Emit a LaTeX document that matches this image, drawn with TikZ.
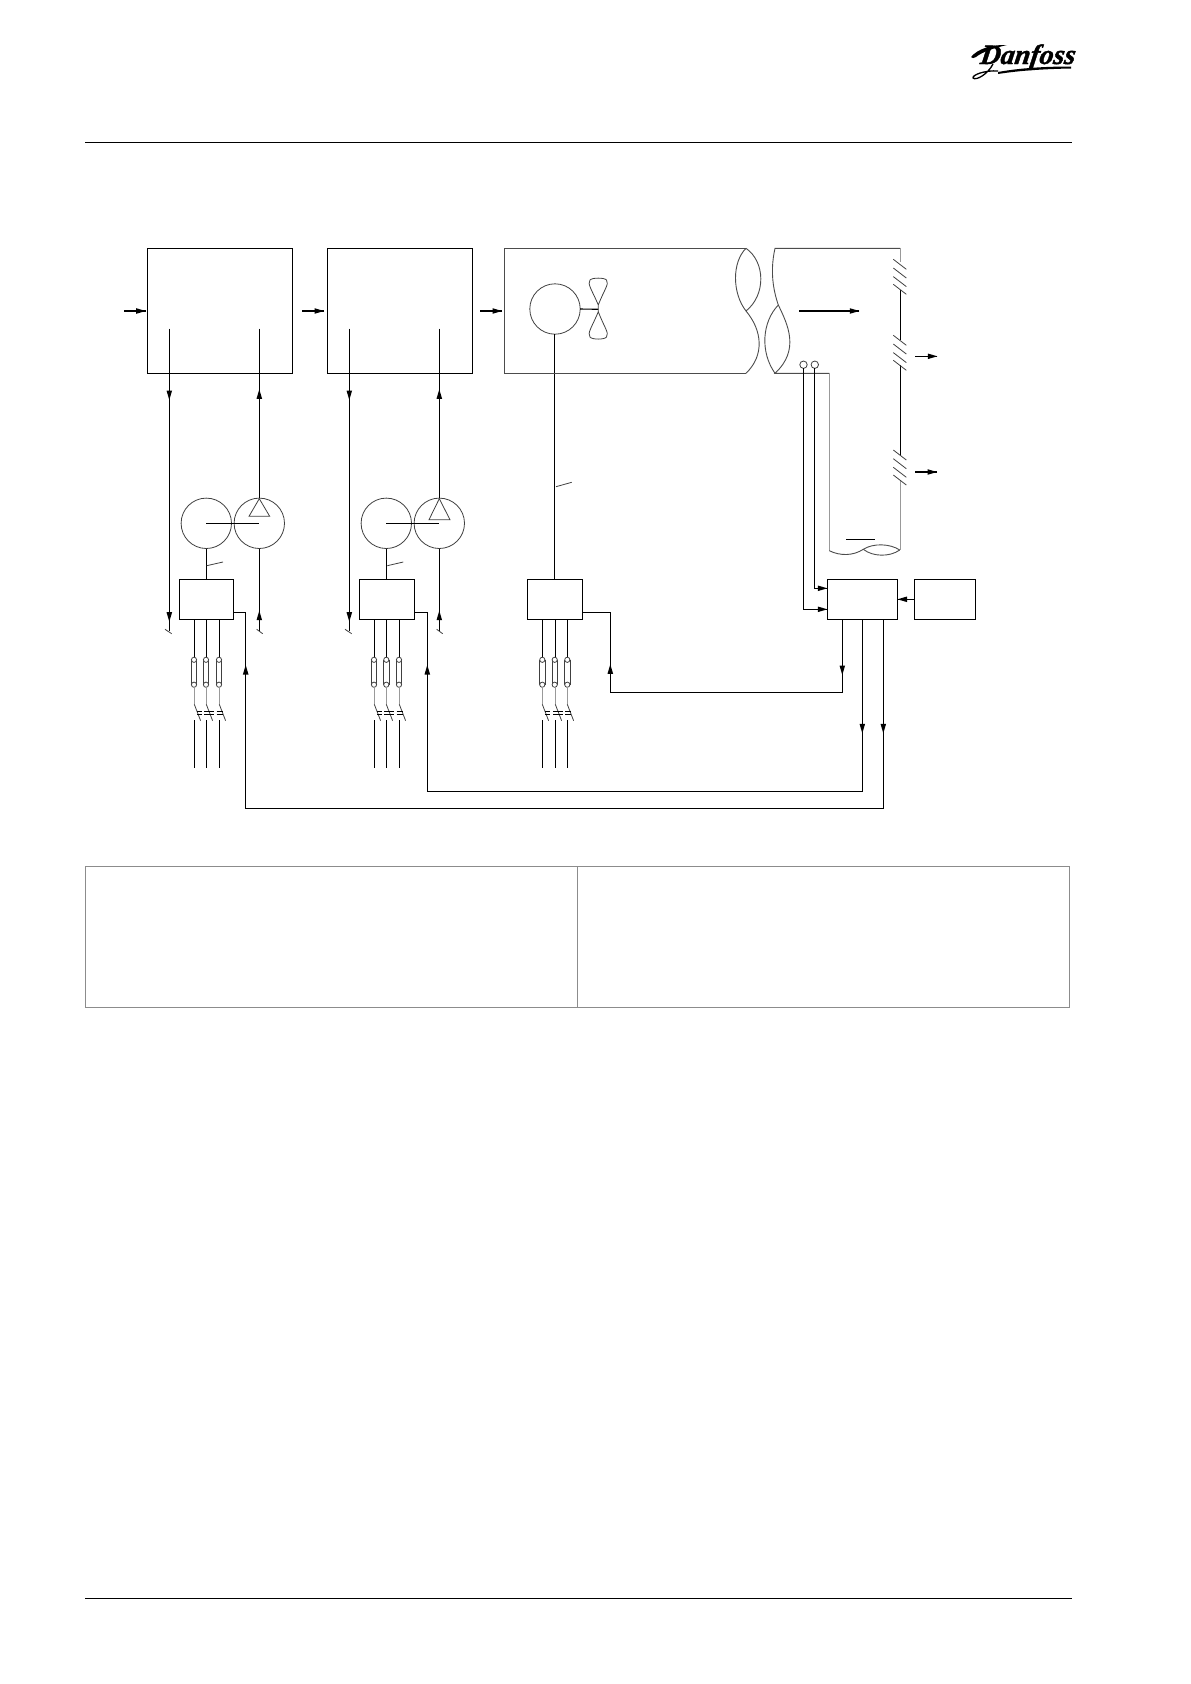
\documentclass[tikz,border=0pt]{standalone}
\usepackage{fontspec}
\setmainfont{Liberation Serif}
\newfontfamily\logofont{Liberation Serif}[BoldItalicFeatures={FakeBold=1.5}]
\usetikzlibrary{calc}
\tikzset{
  x=1pt,y=-1pt,
  wire/.style={draw=black,line width=1.1pt},
  thinl/.style={draw=black!75,line width=0.8pt},
  greyl/.style={draw=black!40,line width=1pt},
  boxn/.style={rectangle,draw=black,line width=1.1pt,inner sep=0,outer sep=0},
  ductl/.style={draw=black!70,line width=0.9pt},
  ringn/.style={circle,draw=black!75,line width=0.8pt,inner sep=0,outer sep=0},
  tablel/.style={draw=black!45,line width=1pt},
}
\newcommand\headat[3]{\fill[black,shift={(#1,#2)},rotate=#3] (0,0) -- (-9.5,2.8) -- (-9.5,-2.8) -- cycle;}
\newcommand\legset[2]{%
  \draw[wire] (#1,619.3) -- (#1,657.5);
  \draw[thinl] (#2-2.8,660) -- (#2-2.8,684.7) (#2+2.8,660) -- (#2+2.8,684.7);
  \draw[thinl,fill=white] (#2,659.8) circle (2.6);
  \draw[thinl,fill=white] (#2,684.7) circle (2.6);
  \draw[greyl] (#1,687.3) -- (#1,704.3);
  \draw[thinl] (#1,704.3) -- (#1+6.3,720.7);
  \draw[wire] (#1,720) -- (#1,767.7);
}
\newcommand\barset[6]{%
  \draw[line width=0.55pt] (#1,711) -- (#2,711) (#1,714) -- (#2,714)
    (#3,711) -- (#4,711) (#3,714) -- (#4,714)
    (#5,711) -- (#6,711) (#5,714) -- (#6,714);
}
\newcommand\damper[1]{%
  \draw[thinl] (893.3,#1) -- (906.3,#1+10) (893.3,#1+8.7) -- (906.3,#1+18.7)
    (893.3,#1+17.3) -- (906.3,#1+27.3) (893.3,#1+25) -- (906.3,#1+35);
}
\begin{document}
\begin{tikzpicture}
\useasboundingbox (0,0) rectangle (1191,1684);
% page rules
\coordinate (hl) at (85,142.5); \coordinate (hr) at (1072,142.5);
\coordinate (fl) at (85,1598.5); \coordinate (fr) at (1072,1598.5);
\draw[wire] (hl) -- (hr);
\draw[wire] (fl) -- (fr);
% logo
\node[inner sep=0,anchor=base,xslant=0.15,transform shape] (logo) at (1027,64)
  {\logofont\fontsize{28}{28}\selectfont\bfseries\itshape Danfoss};
\fill[black] (971,57) .. controls (978,48.5) and (992,44.5) .. (1007,45) .. controls (994,48) and (982,52) .. (976,57) .. controls (974,58.5) and (972,58.5) .. (971,57) -- cycle;
\fill[black] (998,72) .. controls (1020,68) and (1045,66.5) .. (1071,66.5) -- (1071,68.5) .. controls (1045,69) and (1020,70.5) .. (998,74) -- cycle;
\draw[line width=1.3pt] (993,64) .. controls (988,74) and (976,81) .. (973,78) .. controls (972,75) and (985,70) .. (998,71);
% table
\draw[tablel] (85.5,866.5) rectangle (1069.5,1007.5);
\coordinate (tt) at (577.5,866.5); \coordinate (tb) at (577.5,1007.5);
\draw[tablel] (tt) -- (tb);
% boxes
\node[boxn,minimum width=145,minimum height=125] (b1) at (219.8,310.8) {};
\node[boxn,minimum width=145,minimum height=125] (b2) at (399.8,310.8) {};
\node[boxn,minimum width=54,minimum height=40] (d1) at (206.3,599.3) {};
\node[boxn,minimum width=55,minimum height=40] (d2) at (386.8,599.3) {};
\node[boxn,minimum width=55,minimum height=40] (d3) at (554.8,599.3) {};
\node[boxn,minimum width=70,minimum height=40] (ctrl) at (862.3,599.3) {};
\node[boxn,minimum width=61.4,minimum height=40] (sp) at (945,599.3) {};
% motors and pumps
\node[ringn,minimum size=50.4] (m1) at (206.3,523.3) {};
\node[ringn,minimum size=50.4] (p1) at (259.3,523.3) {};
\node[ringn,minimum size=50.4] (m2) at (386.3,523.3) {};
\node[ringn,minimum size=50.4] (p2) at (439.3,523.3) {};
\node[ringn,minimum size=50.4] (m3) at (555,309) {};
\node[ringn,minimum size=7.4] (s1) at (803.5,364.7) {};
\node[ringn,minimum size=7.4] (s2) at (814.8,364.7) {};
\draw[wire] (m1.center) -- (p1.center);
\draw[wire] (m2.center) -- (p2.center);
\draw[thinl] (259.3,498.7) -- (249,516.3) -- (269.7,516.3) -- cycle;
\draw[thinl] (439.3,498.7) -- (429,519.7) -- (450,519.7) -- cycle;
% flow arrows between blocks
\coordinate (i1a) at (124,311); \coordinate (i1b) at (145.7,311);
\coordinate (i2a) at (302,311); \coordinate (i2b) at (324,311);
\coordinate (i3a) at (480,311); \coordinate (i3b) at (502,311);
\draw[wire] (i1a) -- (i1b); \headat{145.7}{311}{0}
\draw[wire] (i2a) -- (i2b); \headat{324}{311}{0}
\draw[wire] (i3a) -- (i3b); \headat{502}{311}{0}
% water lines column 1
\coordinate (w1t) at (169.3,328.7); \coordinate (w1b) at (169.3,631);
\draw[wire] (w1t) -- (w1b);
\headat{169.3}{400}{-90}\headat{169.3}{621.7}{-90}
\draw[thinl] (165,629.3) -- (171.7,633.7);
\coordinate (r1t) at (259.3,328.7); \coordinate (r1b) at (259.3,631);
\draw[wire] (r1t) -- (p1.north);
\draw[wire] (p1.south) -- (r1b);
\headat{259.3}{389.3}{90}\headat{259.3}{610.7}{90}
\draw[thinl] (256.7,629.3) -- (262.7,633.7);
% water lines column 2
\coordinate (w2t) at (349.3,328.7); \coordinate (w2b) at (349.3,631);
\draw[wire] (w2t) -- (w2b);
\headat{349.3}{400}{-90}\headat{349.3}{621.7}{-90}
\draw[thinl] (345,629.3) -- (351.7,633.7);
\coordinate (r2t) at (439.3,328.7); \coordinate (r2b) at (439.3,631);
\draw[wire] (r2t) -- (p2.north);
\draw[wire] (p2.south) -- (r2b);
\headat{439.3}{389.3}{90}\headat{439.3}{610.7}{90}
\draw[thinl] (436.7,629.3) -- (442.7,633.7);
% motor feeds
\draw[wire] (d1.north) -- (m1.south);
\draw[wire] (d2.north) -- (d2.north |- m2.south);
\draw[wire] (d3.north) -- (d3.north |- m3.south);
\draw[thinl] (206.7,565.7) -- (223,562);
\draw[thinl] (387.3,565.7) -- (403.3,562);
\draw[thinl] (556,486.7) -- (571.7,482.3);
% legs
\legset{194.3}{194}\legset{206.3}{206}\legset{219.3}{219}
\legset{374.3}{374}\legset{386.3}{386.3}\legset{399.3}{399}
\legset{542.3}{542.3}\legset{555.3}{554.7}\legset{567.3}{567.3}
\barset{197}{202.3}{204.3}{213.7}{216.7}{222.7}
\barset{377}{382.3}{384.3}{393.7}{396.7}{402.7}
\barset{545}{550}{553.3}{562.7}{565}{571}
% duct left part
\draw[ductl] (746,248.3) -- (504.3,248.3) -- (504.3,373.3) -- (746,373.3);
\draw[ductl] (746,248.3) .. controls (732,262) and (732,293) .. (746,311);
\draw[ductl] (746,248.3) .. controls (765.5,262) and (766,295) .. (746,311);
\draw[ductl] (746,311) .. controls (762,330) and (765,355) .. (746,373.3);
% duct right part
\draw[ductl] (900,248.3) -- (775,248.3) .. controls (769,275) and (775,295) .. (778.3,305) .. controls (788,325) and (800,350) .. (775,373.3) -- (829.3,373.3);
\draw[ductl] (778.3,305) .. controls (762,322) and (760,352) .. (775,373.3);
\draw[greyl] (829.3,373.3) -- (829.3,550.7);
\draw[greyl] (900,248.3) -- (900,262);
\draw[wire] (900.3,290) -- (900.3,340);
\draw[wire] (900.3,365) -- (900.3,455);
\draw[greyl] (900,480) -- (900,550);
\draw[ductl] (829.3,550.7) .. controls (840,556) and (853,556) .. (863.3,549.3) .. controls (873,543) and (890,543.5) .. (899.7,550);
\draw[ductl] (863.3,549.3) .. controls (873,557) and (890,557) .. (899.7,550);
\coordinate (barl) at (846,539.3); \coordinate (barr) at (875,539.3);
\draw[line width=0.9pt] (barl) -- (barr);
\damper{259.3}\damper{335.3}\damper{450}
% fan
\coordinate (fanc) at (598.3,309.3);
\draw[wire] (m3.east) -- (fanc);
\draw[thinl] (598.3,305) .. controls (592,290) and (587,284) .. (590,280) .. controls (592,277.5) and (604.5,277.5) .. (606.5,280) .. controls (609.5,284) and (604,290) .. (598.3,305) -- (598.3,311.7) .. controls (592,327) and (587,333) .. (590,337) .. controls (592,339.8) and (604.5,339.8) .. (606.5,337) .. controls (609.5,333) and (604,327) .. (598.3,311.7);
% air flow arrows
\coordinate (af1) at (799,311); \coordinate (af2) at (859.3,311);
\draw[wire] (af1) -- (af2); \headat{859.3}{311}{0}
\coordinate (z1a) at (915,356.3); \coordinate (z1b) at (937.3,356.3);
\draw[wire] (z1a) -- (z1b); \headat{937.3}{356.3}{0}
\coordinate (z2a) at (915,472); \coordinate (z2b) at (937,472);
\draw[wire] (z2a) -- (z2b); \headat{937}{472}{0}
% sensors to controller
\draw[wire] (s1.south) |- (ctrl.west |- {0,609.3}); \headat{827.3}{609.3}{0}
\draw[wire] (s2.south) |- (ctrl.west |- {0,588.3}); \headat{827.3}{588.3}{0}
\draw[wire] (sp.west) -- (ctrl.east); \headat{897.5}{599.3}{180}
% controller to drives
\coordinate (d1o) at (233.3,612.3);
\coordinate (d2o) at (414.3,612.3);
\coordinate (d3o) at (582.3,612.3);
\coordinate (c1) at (842.3,619.3);
\coordinate (c2) at (862.3,619.3);
\coordinate (c3) at (883.3,619.3);
\draw[wire] (d3o) -- (610.3,612.3) -- (610.3,692.3) -- (842.3,692.3) -- (c1);
\draw[wire] (d2o) -- (427.3,612.3) -- (427.3,791.5) -- (862.3,791.5) -- (c2);
\draw[wire] (d1o) -- (245.7,612.3) -- (245.7,808.3) -- (883.3,808.3) -- (c3);
\headat{610.3}{664.3}{90}\headat{842.3}{675}{-90}
\headat{427.3}{665}{90}\headat{862.3}{733.3}{-90}
\headat{245.7}{665}{90}\headat{883.3}{733.3}{-90}
\end{tikzpicture}
\end{document}
